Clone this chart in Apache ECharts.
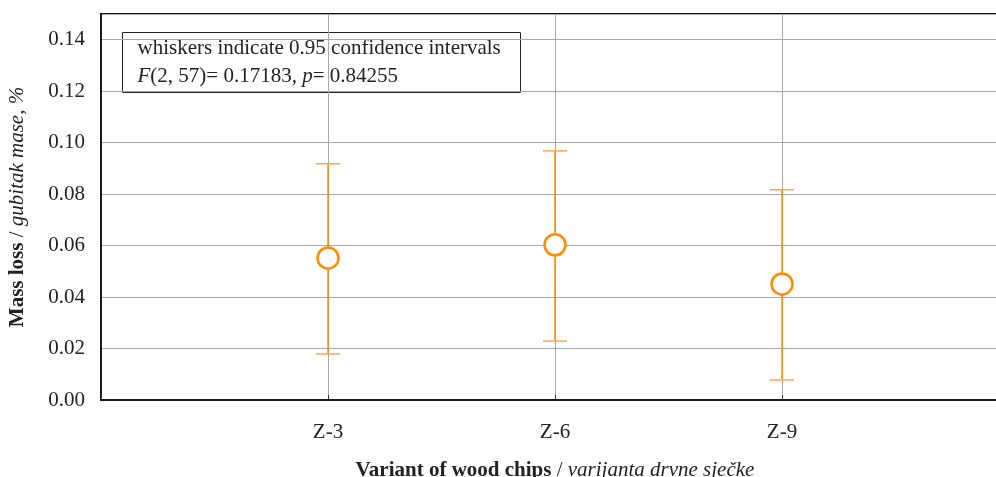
<!DOCTYPE html>
<html>
<head>
<meta charset="utf-8">
<script src="https://cdn.jsdelivr.net/npm/echarts@6/dist/echarts.min.js"></script>
<style>html,body{margin:0;padding:0;background:#fff}#c{width:996px;height:477px}</style>
</head>
<body>
<div id="c"></div>
<script>
var categories = ['Z-3', 'Z-6', 'Z-9'];
var means = [0.0552, 0.0603, 0.0451];
var lowerCI = [0.0179, 0.0229, 0.0078];
var upperCI = [0.0918, 0.0968, 0.0817];
var yTicks = [0, 0.02, 0.04, 0.06, 0.08, 0.10, 0.12, 0.14];

var FONT = '"Liberation Serif", "Times New Roman", serif';
var FS = 21;
var ORANGE = '#FF8C00';

var errData = categories.map(function (c, i) { return [i + 1, lowerCI[i], upperCI[i]]; });
var meanData = categories.map(function (c, i) { return [i + 1, means[i]]; });

var richName = {
  b: { fontFamily: FONT, fontSize: FS, fontWeight: 'bold', color: '#222' },
  n: { fontFamily: FONT, fontSize: FS, color: '#222' },
  i: { fontFamily: FONT, fontSize: FS, fontStyle: 'italic', color: '#222' }
};

var chart = echarts.init(document.getElementById('c'));
chart.setOption({
  animation: false,
  backgroundColor: '#fff',
  grid: {
    left: 101, right: -13, top: 14, bottom: 77,
    outerBoundsMode: 'none', containLabel: false,
    show: true, borderColor: '#1a1a1a', borderWidth: 2, backgroundColor: 'transparent'
  },
  xAxis: {
    type: 'value', min: 0, max: 4, interval: 1,
    axisLine: { show: true, lineStyle: { color: '#1a1a1a', width: 2 } },
    axisTick: { show: true, inside: true, length: 5, lineStyle: { color: '#333', width: 1 } },
    splitLine: { show: true, lineStyle: { color: '#a8a8a8', width: 1 } },
    axisLabel: {
      margin: 22, fontFamily: FONT, fontSize: FS, color: '#222',
      formatter: function (v) { return (v >= 1 && v <= categories.length) ? categories[v - 1] : ''; }
    },
    name: '{b|Variant of wood chips} {n|/} {i|varijanta drvne sječke}',
    nameLocation: 'middle', nameGap: 60,
    nameTextStyle: { fontFamily: FONT, fontSize: FS, color: '#222', rich: richName }
  },
  yAxis: {
    type: 'value', min: 0, max: 0.15, interval: 0.02,
    axisLine: { show: true, lineStyle: { color: '#1a1a1a', width: 2 } },
    axisTick: { show: false },
    splitLine: { show: true, lineStyle: { color: '#a8a8a8', width: 1 } },
    axisLabel: {
      margin: 16, fontFamily: FONT, fontSize: FS, color: '#222',
      formatter: function (v) { return yTicks.some(function (t) { return Math.abs(t - v) < 1e-9; }) ? v.toFixed(2) : ''; }
    },
    name: '{b|Mass loss} {n|/} {i|gubitak mase, %}',
    nameLocation: 'middle', nameGap: 73, nameRotate: 90,
    nameTextStyle: { fontFamily: FONT, fontSize: FS, color: '#222', rich: richName }
  },
  series: [
    {
      type: 'custom',
      data: errData,
      z: 3,
      renderItem: function (params, api) {
        var x = api.value(0);
        var lo = api.coord([x, api.value(1)]);
        var hi = api.coord([x, api.value(2)]);
        var hw = 12;
        var st = { stroke: ORANGE, lineWidth: 1.5 };
        var capSt = { stroke: '#FFA64D', lineWidth: 1.5 };
        return {
          type: 'group',
          children: [
            { type: 'line', shape: { x1: lo[0], y1: lo[1], x2: hi[0], y2: hi[1] }, style: st },
            { type: 'line', shape: { x1: hi[0] - hw, y1: hi[1], x2: hi[0] + hw, y2: hi[1] }, style: capSt },
            { type: 'line', shape: { x1: lo[0] - hw, y1: lo[1], x2: lo[0] + hw, y2: lo[1] }, style: capSt }
          ]
        };
      }
    },
    {
      type: 'scatter',
      data: meanData,
      z: 4,
      symbol: 'circle',
      symbolSize: 21,
      itemStyle: { color: '#fff', borderColor: ORANGE, borderWidth: 2.5, opacity: 1 }
    }
  ],
  graphic: [
    {
      type: 'group', left: 122, top: 32, z: 10,
      children: [
        { type: 'rect', shape: { x: 0, y: 0, width: 398, height: 60 }, style: { fill: '#fff', stroke: '#222', lineWidth: 1 } },
        {
          type: 'text', x: 15, y: 2,
          style: {
            text: 'whiskers indicate 0.95 confidence intervals\n{i|F}(2, 57)= 0.17183, {i|p}= 0.84255',
            fontFamily: FONT, fontSize: FS, fill: '#222', lineHeight: 28,
            rich: { i: { fontFamily: FONT, fontSize: FS, fontStyle: 'italic', fill: '#222' } }
          }
        }
      ]
    }
  ]
});
</script>
</body>
</html>
